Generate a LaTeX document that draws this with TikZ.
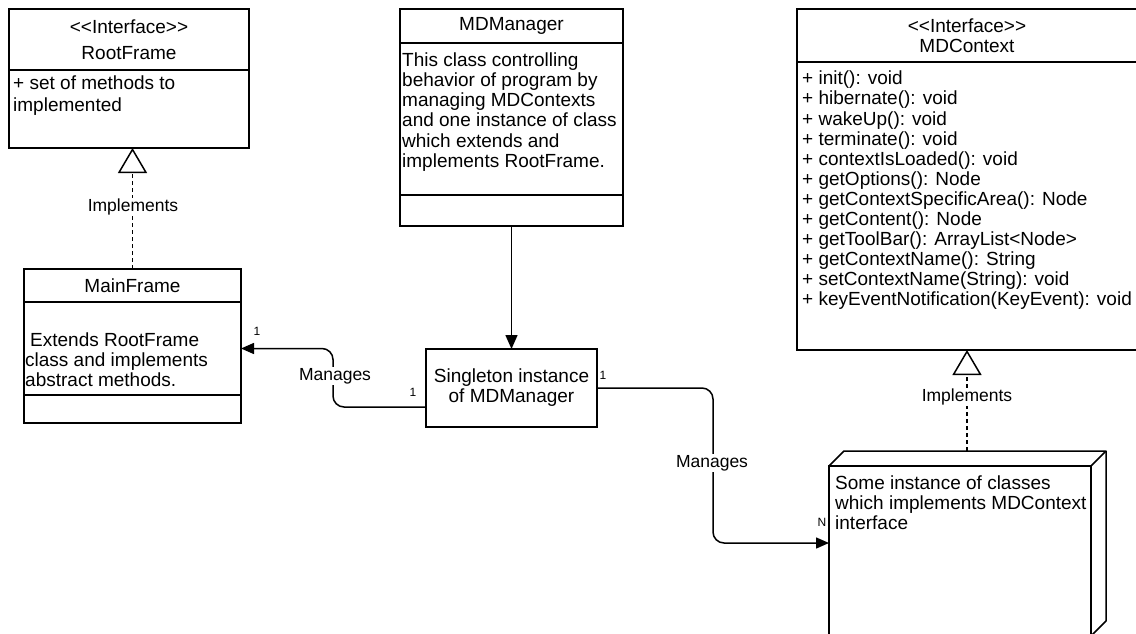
\documentclass[tikz,border=0pt]{standalone}
\usepackage{fontspec}
\setmainfont{Liberation Sans}
\usepackage{tikz}
\usetikzlibrary{arrows.meta}

\def\ltlt{<\kern0pt<}
\def\gtgt{>\kern0pt>}

\begin{document}
\begin{tikzpicture}[x=1pt,y=-1pt]
    \tikzstyle{box}=[draw=black,line width=1.5pt,fill=white,inner sep=0pt,outer sep=0pt,font=\fontsize{19}{20.1}\selectfont]
    \tikzstyle{txt}=[inner sep=0pt,align=left,font=\fontsize{19}{20.1}\selectfont]
    \tikzstyle{lbl}=[fill=white,inner sep=1pt,font=\fontsize{17.5}{20}\selectfont]
    \tikzstyle{mult}=[inner sep=0pt,font=\fontsize{12}{13}\selectfont]
    \tikzstyle{edge}=[draw=black,line width=1.5pt]
    \tikzstyle{impl}=[edge,dash pattern=on 4pt off 3pt,-{Triangle[open,length=25pt,width=29pt]}]
    \tikzstyle{manages}=[edge,rounded corners=11pt,-{Triangle[length=13pt,width=11pt]}]

    \useasboundingbox (0,0) rectangle (1136,634);

    % RootFrame
    \node[box,minimum width=240pt,minimum height=61pt,align=center,font=\fontsize{19}{26}\selectfont] (rfhead) at (129,39.5) {\ltlt Interface\gtgt\\RootFrame};
    \node[box,minimum width=240pt,minimum height=78pt] (rfbody) at (129,109) {};
    \node[txt,anchor=west,font=\fontsize{19}{22}\selectfont] (rftext) at (13,96) {+ set of methods to\\implemented};

    % MainFrame
    \node[box,minimum width=217pt,minimum height=33pt] (mfhead) at (132.5,285.5) {MainFrame};
    \node[box,minimum width=217pt,minimum height=93pt] (mfbody) at (132.5,348.5) {};
    \node[box,minimum width=217pt,minimum height=28pt] (mfbot) at (132.5,409) {};
    \node[txt,anchor=west] (mftext) at (25,360) {\hspace*{5pt}Extends RootFrame\\class and implements\\abstract methods.};

    % MDManager
    \node[box,minimum width=223pt,minimum height=34pt] (mmhead) at (511.5,26) {MDManager};
    \node[box,minimum width=223pt,minimum height=152pt] (mmbody) at (511.5,119) {};
    \node[box,minimum width=223pt,minimum height=31pt] (mmbot) at (511.5,210.5) {};
    \node[txt,anchor=west] (mmtext) at (402,112) {This class controlling\\behavior of program by\\managing MDContexts\\and one instance of class\\which extends and\\implements RootFrame.};

    \node[box,minimum width=171pt,minimum height=78pt,align=center] (single) at (511.5,388) {Singleton instance\\of MDManager};

    % MDContext
    \node[box,minimum width=340pt,minimum height=53pt,align=center] (mchead) at (967,35.5) {\ltlt Interface\gtgt\\MDContext};
    \node[box,minimum width=340pt,minimum height=288pt] (mcbody) at (967,206) {};
    \node[txt,anchor=west] (mctext) at (802,190.5) {+ init(): void\\+ hibernate(): void\\+ wakeUp(): void\\+ terminate(): void\\+ contextIsLoaded(): void\\+ getOptions(): Node\\+ getContextSpecificArea(): Node\\+ getContent(): Node\\+ getToolBar(): ArrayList<Node>\\+ getContextName(): String\\+ setContextName(String): void\\+ keyEventNotification(KeyEvent): void};

    % instance of MDContext (3d box)
    \node[box,minimum width=262pt,minimum height=170pt] (inst) at (960,551) {};
    \draw[line width=1.5pt,line join=round] (inst.north west) -- ++(15,-15) -- ([shift={(15,-15)}]inst.north east) -- (inst.north east);
    \draw[line width=1.5pt,line join=round] ([shift={(15,-15)}]inst.north east) -- ([shift={(15,-15)}]inst.south east) -- (inst.south east);
    \node[txt,anchor=west] (insttext) at (835,503) {Some instance of classes\\which implements MDContext\\interface};

    % connectors
    \path[edge,-{Triangle[length=14pt,width=12pt]}] (mmbot.south) -- (single.north);

    \coordinate (singleout) at ([yshift=-19pt]single.west);
    \coordinate (bendA) at (333,348.5);
    \path[manages] (singleout) -| (bendA) -- (mfbody.east);

    \coordinate (instin) at ([yshift=8pt]inst.west);
    \coordinate (bendB) at (713,388);
    \path[manages] (single.east) -- (bendB) |- (instin);

    \path[impl] (mfhead.north) -- (mfhead.north |- rfbody.south);
    \coordinate (insttop) at ([yshift=15pt]inst.north);
    \path[impl] (insttop -| mcbody.south) -- (mcbody.south);

    % labels
    \node[lbl] (impl1) at (133,207) {Implements};
    \node[lbl] (impl2) at (967,397) {Implements};
    \node[lbl] (mglbl1) at (335,376) {Manages};
    \node[lbl] (mglbl2) at (712,463) {Manages};
    \node[mult] (m1) at (257,331) {1};
    \node[mult] (m2) at (413,392) {1};
    \node[mult] (m3) at (603,375) {1};
    \node[mult] (mn) at (822,522) {N};
\end{tikzpicture}
\end{document}
